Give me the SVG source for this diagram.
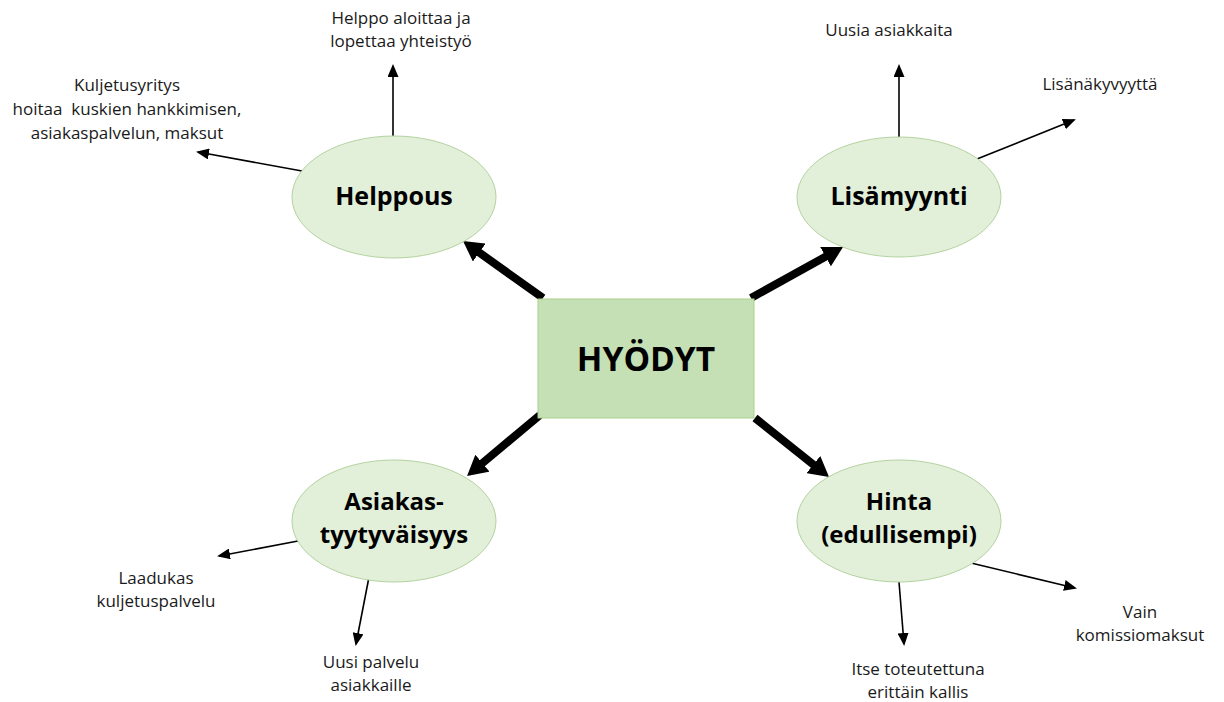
<svg xmlns="http://www.w3.org/2000/svg" width="1224" height="702" viewBox="0 0 1224 702">
<style>
.lbl{font-family:"Open Sans","Liberation Sans",sans-serif;font-size:17px;fill:#1a1a1a;text-anchor:middle}
.node{font-family:"Open Sans","Liberation Sans",sans-serif;font-weight:bold;font-size:25px;fill:#000;text-anchor:middle}
.node2{font-size:24px}
.ell{fill:#e2efd9;stroke:#b4d3a0;stroke-width:1}
.thick{stroke:#000;stroke-width:8;fill:none}
.thin{stroke:#000;stroke-width:1.6;fill:none}
</style>
<defs>
<marker id="bigHead" markerUnits="userSpaceOnUse" markerWidth="22" markerHeight="22" refX="6" refY="11" orient="auto" viewBox="0 0 22 22">
<path d="M0,0 L20,11 L0,22 z" fill="#000"/>
</marker>
<marker id="smallHead" markerUnits="userSpaceOnUse" markerWidth="13" markerHeight="11" refX="11" refY="5.5" orient="auto" viewBox="0 0 13 11">
<path d="M0,0 L13,5.5 L0,11 z" fill="#000"/>
</marker>
</defs>
<rect width="1224" height="702" fill="#fff"/>
<g id="connectors">
<line class="thick" x1="543" y1="298" x2="474.4" y2="249.1" marker-end="url(#bigHead)"/>
<line class="thick" x1="751" y1="298" x2="830.8" y2="253.8" marker-end="url(#bigHead)"/>
<line class="thick" x1="540" y1="415" x2="477.8" y2="467" marker-end="url(#bigHead)"/>
<line class="thick" x1="755" y1="418" x2="818.1" y2="468.3" marker-end="url(#bigHead)"/>
<line class="thin" x1="393" y1="136" x2="393" y2="66" marker-end="url(#smallHead)"/>
<line class="thin" x1="302" y1="171" x2="198" y2="152" marker-end="url(#smallHead)"/>
<line class="thin" x1="899" y1="137" x2="899" y2="66" marker-end="url(#smallHead)"/>
<line class="thin" x1="977" y1="159" x2="1074" y2="120" marker-end="url(#smallHead)"/>
<line class="thin" x1="298" y1="541" x2="219" y2="556" marker-end="url(#smallHead)"/>
<line class="thin" x1="369" y1="577" x2="356" y2="644" marker-end="url(#smallHead)"/>
<line class="thin" x1="899" y1="582" x2="904" y2="644" marker-end="url(#smallHead)"/>
<line class="thin" x1="971" y1="563" x2="1075" y2="588" marker-end="url(#smallHead)"/>
</g>
<g id="hyodyt">
<rect x="538" y="299" width="216" height="119" fill="#c5e0b4" stroke="#a9d18e" stroke-width="1"/>
<text x="646" y="371" class="node" style="font-size:33.5px">HYÖDYT</text>
</g>
<g id="helppous">
<ellipse class="ell" cx="394" cy="197" rx="102" ry="61"/>
<text x="394" y="205" class="node">Helppous</text>
</g>
<g id="lisamyynti">
<ellipse class="ell" cx="899" cy="197" rx="102" ry="60"/>
<text x="899" y="205" class="node">Lisämyynti</text>
</g>
<g id="asiakastyytyvaisyys">
<ellipse class="ell" cx="394" cy="521" rx="102" ry="61"/>
<text x="394" y="510" class="node node2">Asiakas-</text>
<text x="394" y="543" class="node node2">tyytyväisyys</text>
</g>
<g id="hinta">
<ellipse class="ell" cx="899" cy="521" rx="102" ry="61"/>
<text x="899" y="510" class="node node2">Hinta</text>
<text x="899" y="543" class="node node2">(edullisempi)</text>
</g>
<g id="label-helppo">
<text class="lbl" x="401" y="24">Helppo aloittaa ja</text>
<text class="lbl" x="401" y="47">lopettaa yhteistyö</text>
</g>
<g id="label-kuljetus">
<text class="lbl" x="127" y="91">Kuljetusyritys</text>
<text class="lbl" x="127" y="115" xml:space="preserve">hoitaa  kuskien hankkimisen,</text>
<text class="lbl" x="127" y="139">asiakaspalvelun, maksut</text>
</g>
<g id="label-uusia">
<text class="lbl" x="889" y="36">Uusia asiakkaita</text>
</g>
<g id="label-lisanakyvyytta">
<text class="lbl" x="1100" y="90">Lisänäkyvyyttä</text>
</g>
<g id="label-laadukas">
<text class="lbl" x="156" y="584">Laadukas</text>
<text class="lbl" x="156" y="607">kuljetuspalvelu</text>
</g>
<g id="label-uusipalvelu">
<text class="lbl" x="371" y="668">Uusi palvelu</text>
<text class="lbl" x="371" y="691">asiakkaille</text>
</g>
<g id="label-itse">
<text class="lbl" x="918" y="675">Itse toteutettuna</text>
<text class="lbl" x="918" y="698">erittäin kallis</text>
</g>
<g id="label-vain">
<text class="lbl" x="1140" y="618">Vain</text>
<text class="lbl" x="1140" y="641">komissiomaksut</text>
</g>
</svg>
